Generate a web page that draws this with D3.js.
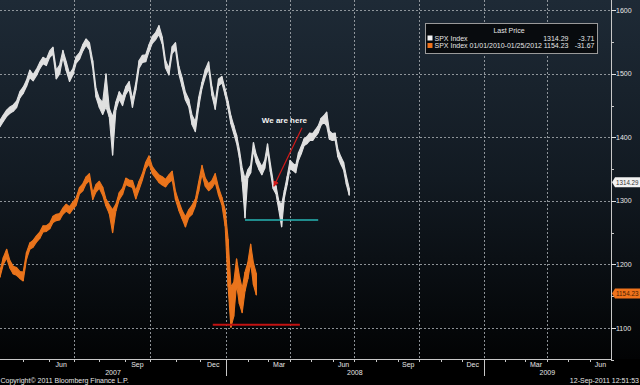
<!DOCTYPE html>
<html><head><meta charset="utf-8">
<script src="https://cdn.jsdelivr.net/npm/d3@7"></script>
<style>html,body{margin:0;padding:0;background:#000;}svg{display:block;}</style>
</head><body><svg id="c" width="640" height="385"></svg>
<script>
// ---------------- data ----------------
const seriesStart = "2007-04-03";      // first sample date (both series are drawn on this time axis)
const sampleStepDays = 4;              // calendar days between samples
// SPX Index (white) – low / high per sample
const whiteLow  = [1417,1425,1433,1438,1441,1447,1462,1469,1480,1494,1489,1497,1508,1516,1513,1526,1531,1492,1500,1526,
                   1505,1488,1498,1517,1523,1536,1545,1538,1509,1463,1447,1436,1448,1432,1372,1443,1460,1450,1468,1476,
                   1447,1474,1509,1518,1519,1535,1548,1554,1562,1547,1509,1498,1532,1538,1500,1480,1459,1448,1420,1409,
                   1447,1477,1495,1508,1466,1444,1481,1486,1466,1445,1421,1406,1391,1368,1330,1273,1336,1344,1379,1360,
                   1349,1341,1351,1378,1346,1319,1311,1286,1259,1305,1326,1351,1348,1344,1364,1374,1387,1390,1395,1395,
                   1401,1407,1419,1424,1418,1397,1395,1396,1369,1358,1349,1326,1309];
const whiteHigh = [1427,1435,1443,1448,1451,1457,1472,1479,1490,1506,1499,1507,1518,1526,1523,1536,1542,1506,1514,1537,
                   1519,1500,1508,1527,1533,1546,1555,1549,1521,1477,1461,1455,1500,1446,1432,1456,1472,1464,1480,1488,
                   1460,1486,1521,1529,1530,1546,1559,1565,1576,1558,1521,1509,1543,1549,1512,1494,1471,1460,1435,1425,
                   1463,1487,1507,1519,1480,1456,1492,1496,1476,1457,1434,1419,1404,1381,1352,1335,1349,1356,1392,1373,
                   1362,1354,1364,1390,1359,1331,1324,1300,1294,1317,1339,1364,1359,1356,1376,1386,1398,1401,1407,1406,
                   1412,1418,1430,1434,1440,1410,1406,1407,1381,1370,1361,1339,1320];
// SPX Index 01/01/2010-01/25/2012 (orange) – low / high per sample
const orangeLow  = [1180,1200,1210,1194,1185,1183,1178,1174,1208,1224,1227,1235,1241,1251,1252,1256,1266,1269,1270,1279,
                    1284,1280,1287,1293,1311,1316,1327,1332,1302,1314,1320,1309,1292,1280,1250,1284,1302,1310,1326,1323,
                    1321,1303,1318,1333,1351,1358,1343,1336,1329,1325,1322,1329,1333,1302,1285,1272,1259,1274,1279,1292,
                    1315,1342,1323,1316,1321,1329,1309,1294,1260,1165,1101,1118,1168,1138,1124,1158,1177,1202,1168,1152];
const orangeHigh = [1190,1211,1224,1206,1197,1195,1189,1188,1219,1234,1238,1245,1251,1261,1261,1265,1276,1279,1280,1289,
                    1295,1291,1298,1305,1321,1327,1338,1343,1313,1326,1331,1322,1303,1294,1286,1295,1313,1320,1336,1333,
                    1332,1316,1331,1343,1361,1371,1354,1347,1341,1338,1334,1341,1347,1315,1299,1285,1275,1286,1293,1303,
                    1330,1356,1336,1327,1332,1343,1321,1306,1286,1240,1165,1172,1209,1182,1162,1188,1203,1232,1202,1186];
const yTicks = [1100, 1200, 1300, 1400, 1500, 1600];
const seriesNames = ["SPX Index", "SPX Index 01/01/2010-01/25/2012"];
const lastPrices = [1314.29, 1154.23];
const netChanges = ["-3.71", "-31.67"];
// drawn annotation lines (date, value)
const supportTeal = {from: "2008-01-28", to: "2008-05-11", value: 1270};
const supportRed  = {from: "2007-12-16", to: "2008-04-15", value: 1105};
const arrowFrom = {date: "2008-04-18", value: 1415};
const arrowTo   = {date: "2008-03-09", value: 1323};
const noteText = "We are here";
const noteAt = {date: "2008-03-24", value: 1423};

// ---------------- layout ----------------
const W = 640, H = 385, plotRight = 611, plotBottom = 359;
const parse = d3.timeParse("%Y-%m-%d");
const svg = d3.select("#c");
const font = "'Liberation Sans', Arial, sans-serif";

const x = d3.scaleTime()
  .domain([parse(seriesStart), new Date(2008, 0, 1), new Date(2009, 6, 1)])
  .range([0, 226, plotRight]);
const y = d3.scaleLinear().domain([1100, 1600]).range([328, 10.3]);

// background gradient
const defs = svg.append("defs");
const g = defs.append("linearGradient").attr("id", "bg").attr("x1", 0).attr("y1", 0).attr("x2", 0).attr("y2", 1);
g.append("stop").attr("offset", "0%").attr("stop-color", "#1e2a36");
g.append("stop").attr("offset", "50%").attr("stop-color", "#121a22");
g.append("stop").attr("offset", "100%").attr("stop-color", "#020304");
svg.append("rect").attr("width", W).attr("height", H).attr("fill", "#000");
svg.append("rect").attr("width", W).attr("height", plotBottom).attr("fill", "url(#bg)");

// horizontal grid
svg.append("g").selectAll("line").data(yTicks).join("line")
  .attr("x1", 0).attr("x2", plotRight).attr("y1", d => Math.round(y(d)) + 0.5).attr("y2", d => Math.round(y(d)) + 0.5)
  .attr("stroke", "#a4a9ae").attr("stroke-width", 1).attr("stroke-dasharray", "2,2").attr("opacity", 0.85);

// vertical grid: quarter starts
const months = d3.timeMonth.range(new Date(2007, 4, 1), new Date(2009, 6, 1));
const quarters = months.filter(d => d.getMonth() % 3 === 0);
svg.append("g").selectAll("line").data(quarters).join("line")
  .attr("x1", d => Math.round(x(d)) + 0.5).attr("x2", d => Math.round(x(d)) + 0.5)
  .attr("y1", 0).attr("y2", plotBottom)
  .attr("stroke", "#a4a9ae").attr("stroke-width", 1).attr("stroke-dasharray", "2,2").attr("opacity", 0.85);

// series
function build(lows, highs) {
  return lows.map((lo, i) => ({date: d3.timeDay.offset(parse(seriesStart), i * sampleStepDays), low: lo, high: highs[i]}));
}
const white = build(whiteLow, whiteHigh);
const orange = build(orangeLow, orangeHigh);
const area = d3.area().x(d => x(d.date)).y0(d => y(d.low)).y1(d => y(d.high));
function drawSeries(data, fill) {
  const s = svg.append("g");
  s.append("path").datum(data).attr("d", area).attr("fill", fill).attr("stroke", fill).attr("stroke-width", 1.1).attr("stroke-linejoin", "round");
  s.selectAll("line").data(data).join("line")
    .attr("x1", d => x(d.date)).attr("x2", d => x(d.date))
    .attr("y1", d => y(d.low)).attr("y2", d => y(d.high))
    .attr("stroke", fill).attr("stroke-width", 1.3);
}
drawSeries(orange, "#ea741c");
drawSeries(white, "#e0e0e0");

// support lines
svg.append("line").attr("x1", x(parse(supportTeal.from))).attr("x2", x(parse(supportTeal.to)))
  .attr("y1", y(supportTeal.value)).attr("y2", y(supportTeal.value)).attr("stroke", "#27b5b5").attr("stroke-width", 1.5);
svg.append("line").attr("x1", x(parse(supportRed.from))).attr("x2", x(parse(supportRed.to)))
  .attr("y1", y(supportRed.value)).attr("y2", y(supportRed.value)).attr("stroke", "#c21212").attr("stroke-width", 2);

// arrow annotation
defs.append("marker").attr("id", "ah").attr("viewBox", "0 0 10 10").attr("refX", 9).attr("refY", 5)
  .attr("markerWidth", 5).attr("markerHeight", 5).attr("orient", "auto")
  .append("path").attr("d", "M0,0L10,5L0,10z").attr("fill", "#d21a1a");
svg.append("line").attr("x1", x(parse(arrowFrom.date))).attr("y1", y(arrowFrom.value))
  .attr("x2", x(parse(arrowTo.date))).attr("y2", y(arrowTo.value))
  .attr("stroke", "#d21a1a").attr("stroke-width", 1.2).attr("marker-end", "url(#ah)");
svg.append("text").attr("x", x(parse(noteAt.date))).attr("y", y(noteAt.value)).attr("text-anchor", "middle")
  .attr("font-family", font).attr("font-size", 8).attr("font-weight", "bold").attr("fill", "#f2f2f2").text(noteText);

// right axis
const ra = svg.append("g");
ra.append("line").attr("x1", plotRight + 0.5).attr("x2", plotRight + 0.5).attr("y1", 0).attr("y2", plotBottom).attr("stroke", "#c8c8c8");
const minor = d3.range(1050, 1601, 50).filter(v => v % 100 !== 0);
ra.selectAll(".mn").data(minor).join("line").attr("class", "mn")
  .attr("x1", plotRight).attr("x2", plotRight + 3).attr("y1", d => Math.round(y(d)) + 0.5).attr("y2", d => Math.round(y(d)) + 0.5).attr("stroke", "#c8c8c8");
ra.selectAll(".mj").data(yTicks).join("line").attr("class", "mj")
  .attr("x1", plotRight).attr("x2", plotRight + 5).attr("y1", d => Math.round(y(d)) + 0.5).attr("y2", d => Math.round(y(d)) + 0.5).attr("stroke", "#e0e0e0");
ra.selectAll("text").data(yTicks).join("text")
  .attr("x", plotRight + 5).attr("y", d => y(d) + 2.5).attr("font-family", font).attr("font-size", 7).attr("fill", "#e6e6e6").text(d => d);

// last price tags
const tagColors = [{bg: "#f2f2f2", fg: "#333"}, {bg: "#f0731c", fg: "#4a1e00"}];
const tagNudge = [-9.5, 0];
lastPrices.forEach((v, i) => {
  const ty = y(v) + tagNudge[i];
  svg.append("path").attr("d", `M${plotRight + 1},${ty} L${plotRight + 4},${ty - 5} L${W},${ty - 5} L${W},${ty + 5} L${plotRight + 4},${ty + 5} Z`)
    .attr("fill", tagColors[i].bg);
  svg.append("text").attr("x", plotRight + 5).attr("y", ty + 2.3).attr("font-family", font).attr("font-size", 6.3)
    .attr("textLength", 22.5).attr("lengthAdjust", "spacingAndGlyphs")
    .attr("fill", tagColors[i].fg).text(v.toFixed(2));
});

// bottom axis
const ba = svg.append("g");
ba.append("line").attr("x1", 0).attr("x2", plotRight + 1).attr("y1", plotBottom + 0.5).attr("y2", plotBottom + 0.5).attr("stroke", "#c8c8c8");
ba.selectAll(".mt").data(months).join("line").attr("class", "mt")
  .attr("x1", d => Math.round(x(d)) + 0.5).attr("x2", d => Math.round(x(d)) + 0.5)
  .attr("y1", plotBottom).attr("y2", plotBottom + 3).attr("stroke", "#c8c8c8");
const labelled = months.filter(d => d.getMonth() % 3 === 2);
ba.selectAll(".ml").data(labelled).join("text").attr("class", "ml")
  .attr("x", d => (x(d) + x(d3.timeMonth.offset(d, 1))) / 2).attr("y", plotBottom + 8)
  .attr("text-anchor", "middle").attr("font-family", font).attr("font-size", 7).attr("fill", "#e6e6e6")
  .text(d => d3.timeFormat("%b")(d));
const yearStarts = [new Date(2008, 0, 1), new Date(2009, 0, 1)];
ba.selectAll(".yt").data(yearStarts).join("line").attr("class", "yt")
  .attr("x1", d => Math.round(x(d)) + 0.5).attr("x2", d => Math.round(x(d)) + 0.5)
  .attr("y1", plotBottom).attr("y2", plotBottom + 17).attr("stroke", "#c8c8c8");
const years = [2007, 2008, 2009];
ba.selectAll(".yl").data(years).join("text").attr("class", "yl")
  .attr("x", d => (Math.max(0, x(new Date(d, 0, 1))) + Math.min(plotRight, x(new Date(d + 1, 0, 1)))) / 2)
  .attr("y", plotBottom + 15.5).attr("text-anchor", "middle").attr("font-family", font).attr("font-size", 7).attr("fill", "#e6e6e6").text(d => d);

svg.append("text").attr("x", 0.5).attr("y", 383).attr("font-family", font).attr("font-size", 7).attr("fill", "#e6e6e6")
  .text("Copyright\u00a9 2011 Bloomberg Finance L.P.");
svg.append("text").attr("x", 639).attr("y", 383).attr("text-anchor", "end").attr("font-family", font).attr("font-size", 7).attr("fill", "#e6e6e6")
  .text("12-Sep-2011 12:51:53");

// legend
const lg = svg.append("g");
lg.append("rect").attr("x", 425.5).attr("y", 23.5).attr("width", 172).attr("height", 30).attr("fill", "#080b0e").attr("stroke", "#9a9a9a");
lg.append("text").attr("x", 509).attr("y", 33).attr("text-anchor", "middle").attr("font-family", font).attr("font-size", 7).attr("fill", "#e6e6e6").text("Last Price");
const swatch = ["#f4f4f4", "#f0731c"];
seriesNames.forEach((n, i) => {
  const ry = 40.5 + i * 7.5;
  lg.append("rect").attr("x", 427.5).attr("y", ry - 5).attr("width", 5).attr("height", 5).attr("fill", swatch[i]);
  lg.append("text").attr("x", 434.5).attr("y", ry).attr("font-family", font).attr("font-size", 7).attr("fill", "#e6e6e6").text(n);
  lg.append("text").attr("x", 568.5).attr("y", ry).attr("text-anchor", "end").attr("font-family", font).attr("font-size", 7).attr("fill", "#e6e6e6").text(lastPrices[i].toFixed(2));
  lg.append("text").attr("x", 594.5).attr("y", ry).attr("text-anchor", "end").attr("font-family", font).attr("font-size", 7).attr("fill", "#e6e6e6").text(netChanges[i]);
});
</script></body></html>
